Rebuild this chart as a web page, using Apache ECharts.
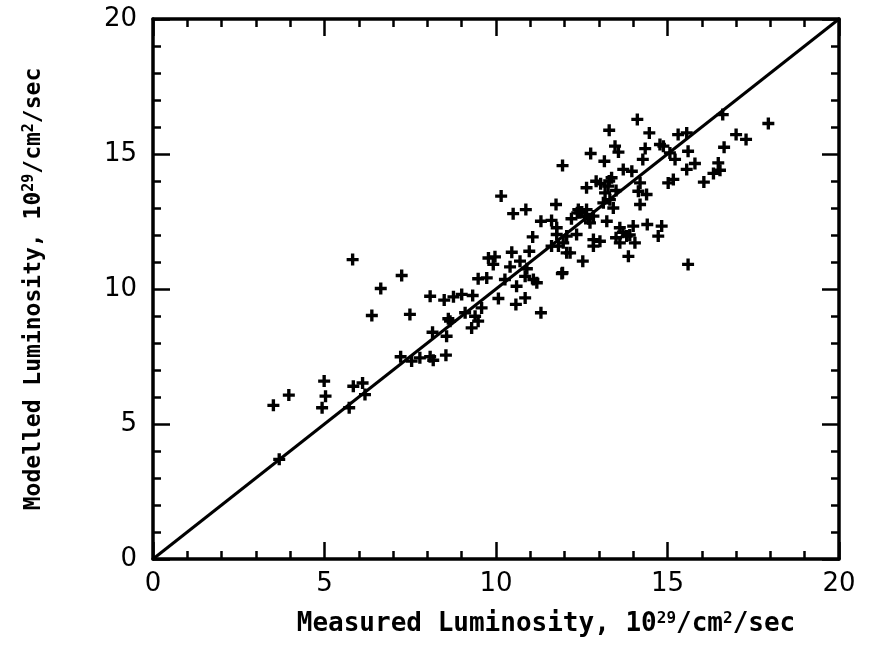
<!DOCTYPE html>
<html>
<head>
<meta charset="utf-8">
<script src="https://cdn.jsdelivr.net/npm/echarts@6/dist/echarts.min.js"></script>
<style>html,body{margin:0;padding:0;background:#fff}#c{width:873px;height:651px}</style>
</head>
<body>
<div id="c"></div>
<script>
const measured = [5.82,7.25,6.64,8.08,8.49,6.38,7.49,8.61,8.15,8.56,7.22,7.54,7.78,8.08,8.17,8.54,4.99,5.84,6.11,6.18,3.96,3.51,5.03,4.93,5.72,3.68,
10.15,10.50,10.87,11.75,11.31,11.62,12.37,11.07,11.77,11.77,11.62,11.82,12.06,10.46,10.97,9.78,9.97,9.92,10.70,10.41,10.90,10.85,11.09,11.92,10.26,10.60,11.19,9.48,9.73,10.07,10.58,10.85,11.31,8.76,9.00,9.32,8.66,9.10,9.39,9.58,9.29,9.48,
14.12,13.30,14.47,13.47,13.57,12.76,13.16,14.28,15.31,15.56,14.88,15.07,15.22,15.56,15.17,15.02,11.94,13.71,13.96,13.37,12.92,12.64,13.27,14.20,14.15,14.39,14.20,13.18,13.32,13.13,13.42,12.45,12.64,12.84,12.74,13.23,12.06,12.35,11.96,12.16,12.84,13.03,12.84,13.61,13.81,13.61,14.00,14.05,14.41,14.83,14.73,13.86,12.53,11.94,15.60,12.40,12.60,14.78,
17.94,16.61,17.00,17.29,16.65,15.60,15.80,16.48,16.53,16.34,16.06,
12.50,12.70,13.70,13.50,13.90,13.30,13.50,12.20,13.05,14.35];
const modelled = [11.09,10.50,10.02,9.73,9.59,9.02,9.06,8.90,8.40,8.25,7.49,7.33,7.45,7.49,7.36,7.55,6.59,6.40,6.52,6.09,6.07,5.69,6.03,5.60,5.60,3.69,
13.44,12.79,12.94,13.13,12.51,12.54,12.82,11.93,12.27,12.02,11.59,11.59,11.34,11.36,11.40,11.15,11.19,10.91,11.03,10.82,10.75,10.47,10.35,10.57,10.35,10.10,10.23,10.38,10.41,9.65,9.43,9.67,9.12,9.71,9.80,9.76,8.81,9.12,8.99,9.30,8.56,8.81,
16.28,15.88,15.78,15.29,15.07,15.02,14.73,14.80,15.72,15.78,15.29,15.04,14.80,14.43,14.06,13.93,14.57,14.43,14.36,14.12,13.99,13.75,13.81,13.93,13.62,13.50,13.13,13.56,13.31,13.19,13.00,12.82,12.94,12.70,12.45,12.51,11.96,12.02,11.71,11.34,11.83,11.77,11.59,12.27,11.96,11.71,12.33,11.71,12.39,12.33,11.96,11.21,11.03,10.60,10.91,12.94,12.70,15.35,
16.13,16.46,15.72,15.54,15.25,15.10,14.65,14.67,14.40,14.28,13.96,
12.85,12.60,12.10,11.90,12.00,14.00,13.65,12.60,13.90,15.20];
const equalityLine = [[0,0],[20,20]];
const xTitle = '{n|Measured Luminosity, 10}{s|29}{n|/cm}{s|2}{n|/sec}';
const yTitle = '{n|Modelled Luminosity, 10}{s|29}{n|/cm}{s|2}{n|/sec}';

const points = measured.map((x,i)=>[x, modelled[i]]);
const FONT = 'DejaVu Sans';
const MONO = 'DejaVu Sans Mono';
const plus = 'path://M3.6,0 L6.4,0 L6.4,3.6 L10,3.6 L10,6.4 L6.4,6.4 L6.4,10 L3.6,10 L3.6,6.4 L0,6.4 L0,3.6 L3.6,3.6 Z';

function axisBase(show){
  return {
    type:'value', min:0, max:20, interval:5,
    axisLine:{show:true, onZero:false, lineStyle:{color:'#000', width:3.5}},
    axisTick:{show:true, inside:true, length:17, lineStyle:{color:'#000', width:2.5}},
    minorTick:{show:true, splitNumber:5, length:8, lineStyle:{color:'#000', width:2.5}},
    splitLine:{show:false}, minorSplitLine:{show:false},
    axisLabel:{show:show, color:'#000', fontFamily:FONT, fontSize:26}
  };
}
const xb = axisBase(true);
xb.axisLabel.margin = 12;
xb.name = xTitle; xb.nameLocation='middle'; xb.nameGap = 52;
xb.nameTextStyle = {padding:[0,0,0,100], rich:{n:{fontFamily:MONO, fontSize:26, fontWeight:'bold', color:'#000'}, s:{fontFamily:MONO, fontSize:16, fontWeight:'bold', color:'#000', verticalAlign:'top', padding:[0,0,10,0]}}};
const xt = axisBase(false); xt.position='top';
const yl = axisBase(true);
yl.axisLabel.margin = 16;
yl.name = yTitle; yl.nameLocation='middle'; yl.nameGap = 106; yl.nameRotate = 90;
yl.nameTextStyle = {rich:{n:{fontFamily:MONO, fontSize:23, fontWeight:'bold', color:'#000'}, s:{fontFamily:MONO, fontSize:15, fontWeight:'bold', color:'#000', padding:[0,0,10,0]}}};
const yr = axisBase(false); yr.position='right';

const chart = echarts.init(document.getElementById('c'), null, {renderer:'canvas'});
chart.setOption({
  backgroundColor:'#fff',
  animation:false,
  grid:{left:153, right:34, top:19, bottom:92, containLabel:false},
  xAxis:[xb, xt],
  yAxis:[yl, yr],
  series:[
    {type:'line', data:equalityLine, symbol:'none', lineStyle:{color:'#000', width:3}, silent:true},
    {type:'scatter', data:points, symbol:plus, symbolSize:12, itemStyle:{color:'#000', opacity:1}}
  ]
});
</script>
</body>
</html>
